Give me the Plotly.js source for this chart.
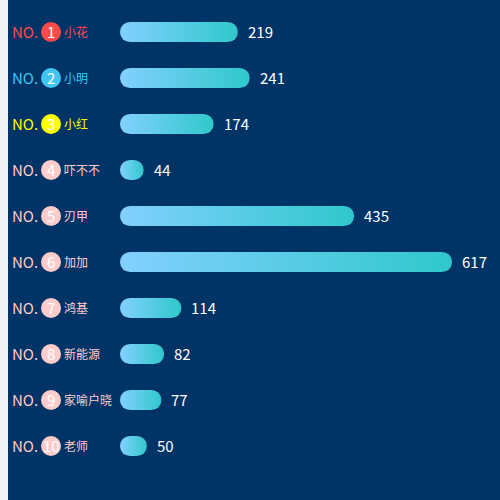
<!DOCTYPE html>
<html>
<head>
<meta charset="utf-8">
<script src="https://cdn.plot.ly/plotly-3.0.1.min.js"></script>
<style>
  html, body { margin: 0; padding: 0; background: #f1f3f7; }
  #chart { margin-left: 8px; width: 492px; height: 500px; }
</style>
</head>
<body>
<div id="chart"></div>
<script>
var names = ['小花', '小明', '小红', '吓不不', '刃甲', '加加', '鸿基', '新能源', '家喻户晓', '老师'];
var values = [219, 241, 174, 44, 435, 617, 114, 82, 77, 50];
var ranks = ['1', '2', '3', '4', '5', '6', '7', '8', '9', '10'];

// colours for the top three, the rest share the pink one
var rankColors = ['#ff4a4a', '#3fc6f3', '#ffff00'];
var otherColor = '#ffcccc';
var colors = names.map(function (n, i) { return rankColors[i] || otherColor; });

var font = '"Noto Sans CJK SC", "Noto Sans", sans-serif';

var bars = {
  type: 'bar',
  orientation: 'h',
  x: values,
  y: names,
  width: 0.44,
  marker: { color: '#6fd3ee' },
  hoverinfo: 'none'
};

var circles = {
  type: 'scatter',
  mode: 'markers',
  xaxis: 'x2',
  x: names.map(function () { return 43; }),
  y: names,
  marker: { size: 20, color: colors, line: { width: 0 } },
  hoverinfo: 'none'
};

function note(xref, x, y, text, size, color, anchor, xshift) {
  return {
    x: x, y: y, xref: xref, yref: 'y',
    text: text, showarrow: false,
    xanchor: anchor, xshift: xshift || 0, yshift: 1,
    font: { family: font, size: size, color: color }
  };
}

var notes = [];
names.forEach(function (n, i) {
  notes.push(note('x2', 2, n, 'NO.', 15, colors[i], 'left'));
  notes.push(note('x2', 43, n, ranks[i], 15, '#ffffff', 'center'));
  notes.push(note('x2', 54, n, n, 12, colors[i], 'left'));
  notes.push(note('x', values[i], n, String(values[i]), 15, '#ffffff', 'left', 8));
});

var layout = {
  width: 492,
  height: 500,
  margin: { l: 0, r: 0, t: 9, b: 31 },
  paper_bgcolor: '#003366',
  plot_bgcolor: '#003366',
  showlegend: false,
  xaxis: { domain: [112 / 492, 1], range: [0, 706], visible: false, fixedrange: true },
  xaxis2: { domain: [0, 112 / 492], range: [0, 112], anchor: 'y', visible: false, fixedrange: true },
  yaxis: { type: 'category', range: [9.5, -0.5], visible: false, fixedrange: true },
  annotations: notes
};

Plotly.newPlot('chart', [bars, circles], layout, { displayModeBar: false, staticPlot: true })
  .then(function (gd) {
    // Plotly bars have no gradient fill or round ends on both sides, so patch the svg
    var svg = gd.querySelector('.main-svg');
    var ns = 'http://www.w3.org/2000/svg';
    var defs = svg.querySelector('defs') || svg.insertBefore(document.createElementNS(ns, 'defs'), svg.firstChild);
    var grad = document.createElementNS(ns, 'linearGradient');
    grad.setAttribute('id', 'barGrad');
    grad.setAttribute('x1', '0'); grad.setAttribute('y1', '0');
    grad.setAttribute('x2', '1'); grad.setAttribute('y2', '0');
    [['0', '#83d0ff'], ['1', '#2fc8cc']].forEach(function (s) {
      var stop = document.createElementNS(ns, 'stop');
      stop.setAttribute('offset', s[0]);
      stop.setAttribute('stop-color', s[1]);
      grad.appendChild(stop);
    });
    defs.appendChild(grad);
    gd.querySelectorAll('.barlayer .point path').forEach(function (p) {
      var b = p.getBBox();
      var r = Math.min(b.height / 2, b.width / 2);
      var x0 = b.x, x1 = b.x + b.width, y0 = b.y, y1 = b.y + b.height;
      p.setAttribute('d',
        'M' + (x0 + r) + ',' + y0 + 'H' + (x1 - r) +
        'A' + r + ',' + r + ' 0 0 1 ' + (x1 - r) + ',' + y1 +
        'H' + (x0 + r) +
        'A' + r + ',' + r + ' 0 0 1 ' + (x0 + r) + ',' + y0 + 'Z');
      p.style.fill = 'url(#barGrad)';
    });
  });
</script>
</body>
</html>
